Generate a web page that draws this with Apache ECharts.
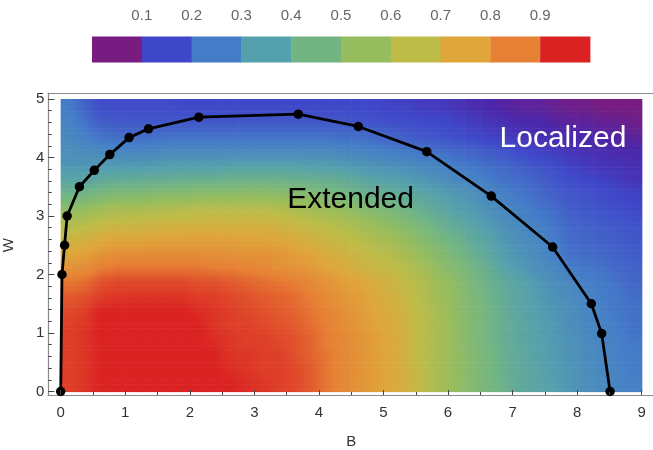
<!DOCTYPE html>
<html>
<head>
<meta charset="utf-8">
<script src="https://cdn.jsdelivr.net/npm/echarts@6/dist/echarts.min.js"></script>
<style>
html,body{margin:0;padding:0;background:#fff;}
#chart{width:653px;height:450px;}
</style>
</head>
<body>
<div id="chart"></div>
<script>
// ---- data ----
const bCenters = [0.125,0.375,0.625,0.875,1.125,1.375,1.625,1.875,2.125,2.375,2.625,2.875,
                  3.125,3.375,3.625,3.875,4.125,4.375,4.625,4.875,5.125,5.375,5.625,5.875,
                  6.125,6.375,6.625,6.875,7.125,7.375,7.625,7.875,8.125,8.375,8.625,8.875];
const wCenters = [0.125,0.375,0.625,0.875,1.125,1.375,1.625,1.875,2.125,2.375,
                  2.625,2.875,3.125,3.375,3.625,3.875,4.125,4.375,4.625,4.875];
// one row per W (bottom to top), one value per B column
const fieldRows = [
 [.92,.93,.95,.95,.95,.95,.95,.95,.95,.95,.95,.94,.93,.92,.91,.89,.86,.83,.80,.77,.74,.70,.64,.59,.54,.50,.46,.43,.39,.37,.35,.32,.30,.29,.27,.26],
 [.92,.93,.95,.95,.95,.95,.95,.95,.95,.95,.94,.93,.92,.92,.91,.89,.86,.83,.80,.77,.74,.70,.64,.59,.54,.50,.46,.42,.39,.37,.34,.32,.30,.28,.27,.25],
 [.92,.93,.95,.95,.95,.95,.95,.95,.95,.95,.93,.93,.92,.92,.90,.88,.86,.83,.80,.77,.74,.69,.64,.59,.54,.50,.46,.42,.39,.36,.34,.31,.29,.28,.26,.25],
 [.92,.93,.95,.95,.95,.95,.95,.95,.95,.94,.93,.92,.92,.91,.90,.88,.85,.83,.80,.77,.74,.69,.64,.59,.54,.49,.45,.41,.38,.36,.33,.31,.29,.27,.26,.24],
 [.92,.93,.95,.95,.95,.95,.95,.95,.95,.93,.92,.92,.91,.90,.89,.87,.85,.82,.79,.76,.73,.69,.64,.59,.54,.49,.45,.41,.38,.35,.33,.30,.28,.27,.25,.23],
 [.91,.92,.95,.95,.95,.95,.95,.95,.94,.93,.92,.91,.90,.89,.88,.86,.84,.81,.78,.75,.72,.68,.63,.58,.53,.49,.45,.41,.37,.35,.32,.30,.28,.26,.24,.23],
 [.89,.90,.92,.93,.93,.93,.93,.93,.92,.92,.91,.90,.89,.88,.87,.85,.82,.79,.77,.74,.71,.67,.62,.57,.53,.48,.44,.40,.37,.34,.31,.29,.27,.25,.24,.22],
 [.86,.87,.90,.91,.91,.91,.91,.91,.90,.90,.89,.88,.87,.86,.85,.83,.80,.77,.75,.72,.69,.65,.61,.56,.52,.47,.43,.39,.36,.33,.30,.28,.26,.25,.23,.21],
 [.80,.82,.85,.86,.86,.86,.86,.86,.86,.85,.85,.84,.83,.81,.80,.78,.75,.73,.70,.68,.66,.62,.58,.53,.49,.45,.41,.36,.33,.30,.28,.25,.24,.23,.21,.20],
 [.74,.76,.79,.81,.81,.81,.81,.81,.81,.81,.80,.80,.80,.79,.77,.75,.72,.70,.67,.64,.62,.58,.54,.50,.46,.42,.38,.34,.31,.29,.26,.23,.22,.21,.20,.19],
 [.68,.70,.73,.74,.74,.75,.75,.76,.76,.76,.76,.75,.75,.74,.72,.70,.68,.66,.63,.60,.57,.54,.50,.46,.43,.39,.36,.32,.30,.28,.25,.22,.21,.20,.19,.18],
 [.61,.63,.66,.67,.67,.68,.69,.69,.70,.70,.70,.70,.70,.69,.67,.65,.63,.61,.58,.55,.52,.49,.46,.42,.39,.36,.33,.30,.28,.26,.24,.21,.20,.19,.18,.17],
 [.52,.54,.57,.59,.59,.60,.61,.62,.63,.63,.63,.63,.63,.62,.60,.58,.56,.54,.51,.49,.47,.44,.41,.38,.35,.33,.30,.28,.26,.24,.22,.19,.18,.17,.16,.15],
 [.44,.45,.47,.49,.49,.50,.51,.51,.52,.52,.52,.53,.53,.52,.51,.50,.48,.46,.44,.42,.41,.39,.37,.35,.33,.31,.28,.26,.24,.22,.20,.18,.17,.16,.15,.14],
 [.37,.37,.39,.40,.40,.41,.41,.42,.42,.42,.43,.43,.43,.43,.42,.42,.41,.40,.38,.36,.35,.34,.32,.30,.28,.27,.25,.23,.22,.20,.18,.16,.15,.14,.13,.12],
 [.32,.32,.33,.33,.33,.33,.34,.34,.34,.34,.35,.35,.35,.35,.35,.34,.34,.33,.32,.31,.30,.29,.28,.27,.25,.24,.22,.21,.19,.17,.16,.14,.13,.12,.12,.11],
 [.30,.29,.28,.27,.27,.27,.28,.28,.28,.28,.28,.28,.28,.28,.28,.28,.28,.27,.27,.26,.25,.24,.23,.22,.21,.20,.18,.17,.15,.14,.13,.12,.11,.11,.10,.10],
 [.28,.26,.23,.22,.22,.22,.23,.23,.23,.23,.23,.23,.23,.23,.23,.23,.23,.22,.22,.21,.20,.19,.18,.17,.16,.15,.14,.13,.12,.11,.11,.10,.10,.09,.09,.08],
 [.27,.23,.19,.18,.18,.18,.18,.18,.18,.18,.18,.18,.18,.18,.18,.18,.18,.18,.17,.17,.16,.16,.15,.15,.14,.13,.12,.11,.10,.10,.09,.08,.08,.07,.07,.06],
 [.25,.20,.16,.16,.16,.16,.16,.15,.15,.15,.15,.15,.15,.15,.15,.15,.15,.15,.15,.15,.14,.14,.13,.13,.12,.11,.10,.09,.08,.08,.07,.06,.06,.05,.05,.05]
];
// phase boundary points
const boundaryB = [0, 0.02, 0.06, 0.10, 0.29, 0.52, 0.76, 1.06, 1.36, 2.14, 3.68, 4.61, 5.67, 6.67, 7.62, 8.22, 8.38, 8.51];
const boundaryW = [0, 2.0, 2.5, 3.0, 3.5, 3.78, 4.05, 4.34, 4.49, 4.69, 4.74, 4.53, 4.10, 3.34, 2.47, 1.50, 0.99, 0];
// region labels
const regionNames = ['Extended', 'Localized'];
const regionB = [4.49, 7.78];
const regionW = [3.27, 4.32];
// colour bar
const colorbarCenters = [0.05,0.15,0.25,0.35,0.45,0.55,0.65,0.75,0.85,0.95];
const colorbarTickValues = [0.1,0.2,0.3,0.4,0.5,0.6,0.7,0.8,0.9];
const colorbarTickLabels = ['0.1','0.2','0.3','0.4','0.5','0.6','0.7','0.8','0.9'];

// ---- styles ----
const rainbow = ['#781C81','#4B27AA','#3F47C9','#4261C8','#447CC8','#4C8EBA','#54A0AD','#63AA98',
                 '#72B583','#84B970','#96BD5D','#AABC52','#BEBC48','#CEB141','#DFA63A','#E29337',
                 '#E68034','#E0512B','#DA2222'];
const VMIN = 0.05, VMAX = 0.95;
const FONT = 'Liberation Sans, Arial, sans-serif';

const nB = bCenters.length, nW = wCenters.length;
const heatData = [];
fieldRows.forEach((row, j) => {
  if (row.length !== nB) console.error('row ' + j + ' has ' + row.length);
  row.forEach((v, i) => heatData.push([bCenters[i], wCenters[j], v, i, j]));
});
const halfB = (bCenters[1] - bCenters[0]) / 2;
const halfW = (wCenters[1] - wCenters[0]) / 2;

// smooth shading inside each cell (like a density plot)
function clamp(x, a, b) { return Math.max(a, Math.min(b, x)); }
function shadeAt(fi, fj) {
  fi = clamp(fi, 0, nB - 1); fj = clamp(fj, 0, nW - 1);
  const i0 = Math.floor(fi), j0 = Math.floor(fj);
  const i1 = Math.min(i0 + 1, nB - 1), j1 = Math.min(j0 + 1, nW - 1);
  const ti = fi - i0, tj = fj - j0;
  return (1 - ti) * (1 - tj) * fieldRows[j0][i0] + ti * (1 - tj) * fieldRows[j0][i1]
       + (1 - ti) * tj * fieldRows[j1][i0] + ti * tj * fieldRows[j1][i1];
}
function colorOf(v) {
  return echarts.color.lerp(clamp((v - VMIN) / (VMAX - VMIN), 0, 1), rainbow);
}
const SUB = 6;
const XSTOPS = [-0.5, -0.25, 0, 0.25, 0.5];

const chart = echarts.init(document.getElementById('chart'), null, {renderer: 'canvas'});
const frameLine = {show: true, onZero: false, lineStyle: {color: '#8a8a8a', width: 1.2}};

chart.setOption({
  animation: false,
  textStyle: {fontFamily: FONT},
  grid: [
    {left: 48, right: 0, top: 93, bottom: 55, outerBoundsMode: 'none', containLabel: false},
    {left: 60.7, right: 11.3, top: 99, bottom: 58.5, outerBoundsMode: 'none', containLabel: false},
    {left: 92, right: 63, top: 36.5, height: 26, outerBoundsMode: 'none', containLabel: false}
  ],
  xAxis: [
    {gridIndex: 0, type: 'value', min: 0, max: 1, position: 'bottom', axisLine: frameLine,
     axisTick: {show: false}, axisLabel: {show: false}, splitLine: {show: false}},
    {gridIndex: 0, type: 'value', min: 0, max: 1, position: 'top', axisLine: frameLine,
     axisTick: {show: false}, axisLabel: {show: false}, splitLine: {show: false}},
    {gridIndex: 1, type: 'value', min: 0, max: 9, interval: 1, position: 'bottom', offset: 3.5, z: 10,
     axisLine: {show: false, onZero: false},
     axisTick: {show: true, inside: true, length: 5, lineStyle: {color: '#444', width: 1}},
     minorTick: {show: true, splitNumber: 2, length: 3, lineStyle: {color: '#444', width: 1}},
     axisLabel: {color: '#333', fontSize: 15, margin: 10, fontFamily: FONT},
     splitLine: {show: false},
     name: 'B', nameLocation: 'middle', nameGap: 39,
     nameTextStyle: {color: '#333', fontSize: 15, fontFamily: FONT}},
    {gridIndex: 2, type: 'value', min: 0, max: 1, interval: 0.1, position: 'top',
     axisLine: {show: false},
     axisTick: {show: true, inside: false, length: 6, lineStyle: {color: '#c8c8c8', width: 1},
                customValues: colorbarTickValues},
     axisLabel: {color: '#666', fontSize: 15, margin: 13, fontFamily: FONT,
                 customValues: colorbarTickValues,
                 formatter: v => colorbarTickLabels[Math.round(v * 10) - 1] || ''},
     splitLine: {show: false}}
  ],
  yAxis: [
    {gridIndex: 0, type: 'value', min: 0, max: 1, position: 'left', axisLine: frameLine,
     axisTick: {show: false}, axisLabel: {show: false}, splitLine: {show: false}},
    {gridIndex: 1, type: 'value', min: 0, max: 5, interval: 1, position: 'left', offset: 12.4, z: 10,
     axisLine: {show: false, onZero: false},
     axisTick: {show: true, inside: true, length: 6, lineStyle: {color: '#444', width: 1}},
     minorTick: {show: true, splitNumber: 5, length: 3.5, lineStyle: {color: '#444', width: 1}},
     axisLabel: {color: '#333', fontSize: 15, margin: 4, fontFamily: FONT},
     splitLine: {show: false},
     name: 'W', nameLocation: 'middle', nameGap: 32,
     nameTextStyle: {color: '#333', fontSize: 15, fontFamily: FONT}},
    {gridIndex: 2, type: 'value', min: 0, max: 1, show: false}
  ],
  visualMap: [{
    type: 'continuous', show: false, min: VMIN, max: VMAX, dimension: 2,
    seriesIndex: [2], inRange: {color: rainbow}
  }],
  series: [
    {
      type: 'custom', xAxisIndex: 2, yAxisIndex: 1, z: 1,
      data: heatData,
      renderItem: (params, api) => {
        const b = api.value(0), w = api.value(1);
        const ci = api.value(3), cj = api.value(4);
        const p0 = api.coord([b - halfB, w + halfW]);
        const p1 = api.coord([b + halfB, w - halfW]);
        const width = p1[0] - p0[0] + 0.6;
        const hTot = p1[1] - p0[1];
        const children = [];
        for (let k = 0; k < SUB; k++) {
          const fj = cj + 0.5 - (k + 0.5) / SUB;   // k=0 is the top strip
          const stops = XSTOPS.map(dx => ({offset: dx + 0.5, color: colorOf(shadeAt(ci + dx, fj))}));
          children.push({type: 'rect',
            shape: {x: p0[0], y: p0[1] + hTot * k / SUB, width: width, height: hTot / SUB + 0.6},
            style: {fill: new echarts.graphic.LinearGradient(0, 0, 1, 0, stops)}});
        }
        return {type: 'group', children: children};
      }
    },
    {
      type: 'line', xAxisIndex: 2, yAxisIndex: 1, z: 5,
      data: boundaryB.map((b, i) => [b, boundaryW[i]]),
      symbol: 'circle', symbolSize: 9.5,
      lineStyle: {color: '#000', width: 2.8},
      itemStyle: {color: '#000'}
    },
    {
      type: 'custom', xAxisIndex: 3, yAxisIndex: 2,
      data: colorbarCenters.map(c => [c, 0.5, c]),
      renderItem: (params, api) => {
        const c = api.value(0);
        const p0 = api.coord([c - 0.05, 1]);
        const p1 = api.coord([c + 0.05, 0]);
        return {type: 'rect',
          shape: {x: p0[0], y: p0[1], width: p1[0] - p0[0] + 0.4, height: p1[1] - p0[1]},
          style: {fill: api.visual('color')}};
      }
    },
    {
      type: 'scatter', xAxisIndex: 2, yAxisIndex: 1, z: 6,
      symbolSize: 0, itemStyle: {opacity: 1},
      data: regionNames.map((n, i) => ({value: [regionB[i], regionW[i]], name: n,
        label: {color: i === 0 ? '#000' : '#fff'}})),
      label: {show: true, position: 'inside', formatter: p => p.name, opacity: 1,
              fontSize: 30, fontFamily: FONT},
      emphasis: {disabled: true}
    }
  ]
});
</script>
</body>
</html>
